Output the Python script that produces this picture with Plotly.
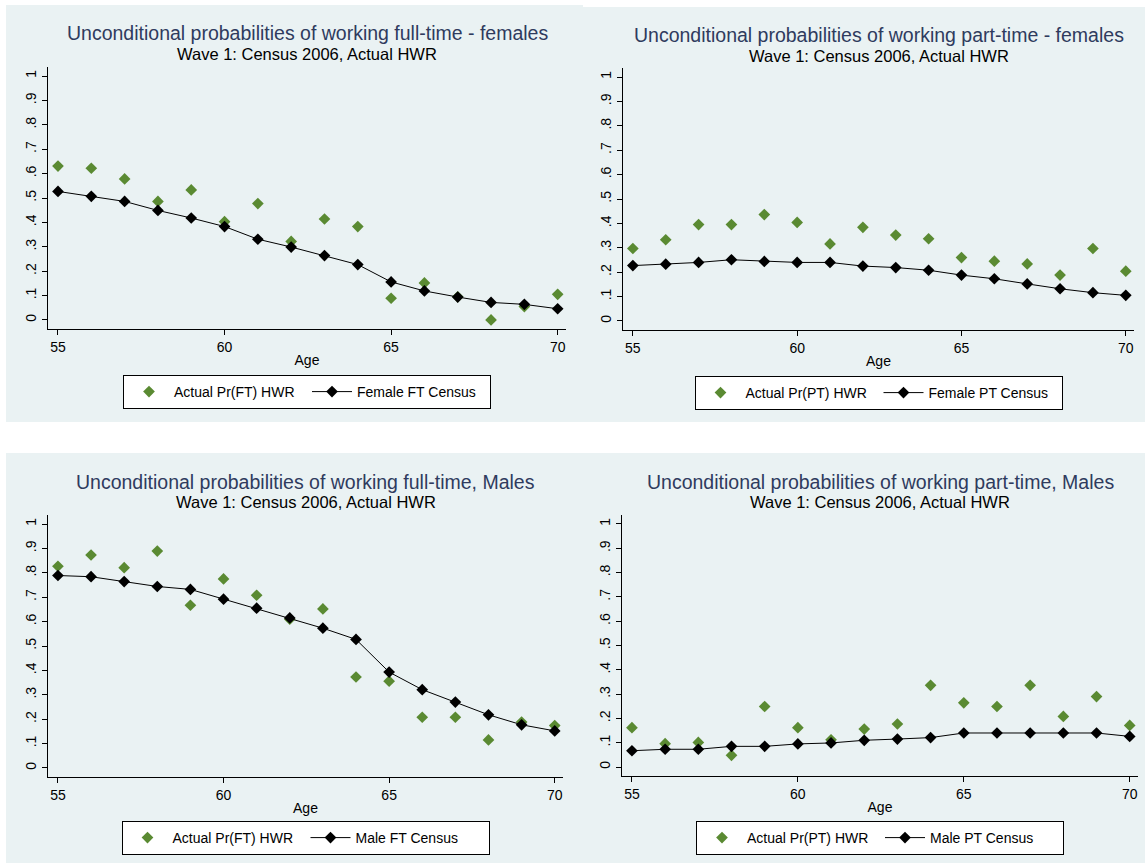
import plotly.graph_objects as go

ages = list(range(55, 71))

# Top-left: full-time, females
ft_f_actual = [0.631, 0.622, 0.578, 0.486, 0.533, 0.403, 0.477, 0.322, 0.414, 0.383, 0.089, 0.152, 0.095, 0.0, 0.055, 0.105]
ft_f_census = [0.527, 0.507, 0.486, 0.449, 0.418, 0.383, 0.331, 0.299, 0.264, 0.227, 0.156, 0.119, 0.094, 0.072, 0.064, 0.046]

# Top-right: part-time, females
pt_f_actual = [0.297, 0.333, 0.395, 0.395, 0.436, 0.404, 0.316, 0.384, 0.352, 0.337, 0.260, 0.245, 0.234, 0.188, 0.297, 0.204]
pt_f_census = [0.227, 0.233, 0.240, 0.251, 0.244, 0.240, 0.240, 0.225, 0.219, 0.208, 0.188, 0.173, 0.152, 0.132, 0.116, 0.105]

# Bottom-left: full-time, males
ft_m_actual = [0.827, 0.873, 0.821, 0.889, 0.667, 0.775, 0.708, 0.610, 0.652, 0.373, 0.356, 0.208, 0.208, 0.115, 0.188, 0.174]
ft_m_census = [0.789, 0.784, 0.764, 0.744, 0.732, 0.692, 0.655, 0.615, 0.573, 0.527, 0.393, 0.321, 0.270, 0.218, 0.177, 0.152]

# Bottom-right: part-time, males
pt_m_actual = [0.162, 0.096, 0.101, 0.048, 0.249, 0.162, 0.112, 0.156, 0.177, 0.336, 0.264, 0.249, 0.336, 0.208, 0.290, 0.171]
pt_m_census = [0.067, 0.073, 0.073, 0.085, 0.085, 0.095, 0.099, 0.110, 0.115, 0.121, 0.140, 0.140, 0.140, 0.140, 0.140, 0.126]

titles = [
    "Unconditional probabilities of working full-time - females",
    "Unconditional probabilities of working part-time - females",
    "Unconditional probabilities of working full-time, Males",
    "Unconditional probabilities of working part-time, Males",
]
subtitle = "Wave 1: Census 2006, Actual HWR"
actual_names = ["Actual Pr(FT) HWR", "Actual Pr(PT) HWR", "Actual Pr(FT) HWR", "Actual Pr(PT) HWR"]
census_names = ["Female FT Census", "Female PT Census", "Male FT Census", "Male PT Census"]
x_ticks = [55, 60, 65, 70]
y_ticks = [0, 0.1, 0.2, 0.3, 0.4, 0.5, 0.6, 0.7, 0.8, 0.9, 1.0]
y_ticktext = ["0", ".1", ".2", ".3", ".4", ".5", ".6", ".7", ".8", ".9", "1"]

W, H = 1145, 863
FONT = "Arial, Liberation Sans, sans-serif"
PANEL_BG = "#EAF2F3"
GREEN = "#5A8A32"
TITLE_COLOR = "#2F3B5E"

def px(x):
    return x / W

def py(y):
    return 1 - y / H

# plot areas in pixels: (left, right, top, bottom)
areas = [
    (48, 566, 67, 329),
    (623, 1134, 68, 330),
    (48, 563, 515, 777),
    (622, 1138, 515, 776),
]
title_y = [(33, 54), (35, 56), (482, 502), (482, 502)]
legend_y = [375, 376, 821, 821]

series = [
    (ft_f_actual, ft_f_census),
    (pt_f_actual, pt_f_census),
    (ft_m_actual, ft_m_census),
    (pt_m_actual, pt_m_census),
]

fig = go.Figure()
layout = dict(
    width=W, height=H, autosize=False,
    margin=dict(l=0, r=0, t=0, b=0),
    paper_bgcolor="white", plot_bgcolor="white",
    font=dict(family=FONT, color="black", size=14),
    showlegend=True,
)

shapes = [
    dict(type="rect", xref="paper", yref="paper", x0=px(6), x1=px(583), y0=py(422), y1=py(5),
         fillcolor=PANEL_BG, line=dict(width=0), layer="below"),
    dict(type="rect", xref="paper", yref="paper", x0=px(583), x1=px(1145), y0=py(422), y1=py(7),
         fillcolor=PANEL_BG, line=dict(width=0), layer="below"),
    dict(type="rect", xref="paper", yref="paper", x0=px(6), x1=px(1145), y0=py(863), y1=py(453),
         fillcolor=PANEL_BG, line=dict(width=0), layer="below"),
]
annotations = []

for i in range(4):
    n = i + 1
    xa = "x" if n == 1 else f"x{n}"
    ya = "y" if n == 1 else f"y{n}"
    lg = "legend" if n == 1 else f"legend{n}"
    l, r, t, b = areas[i]
    actual, census = series[i]
    fig.add_trace(go.Scatter(
        x=ages, y=actual, mode="markers", name=actual_names[i],
        marker=dict(symbol="diamond", size=9, color=GREEN),
        xaxis=xa, yaxis=ya, legend=lg,
    ))
    fig.add_trace(go.Scatter(
        x=ages, y=census, mode="lines+markers", name=census_names[i],
        marker=dict(symbol="diamond", size=9, color="black"),
        line=dict(color="black", width=1),
        xaxis=xa, yaxis=ya, legend=lg,
    ))
    xkey = "xaxis" if n == 1 else f"xaxis{n}"
    ykey = "yaxis" if n == 1 else f"yaxis{n}"
    layout[xkey] = dict(
        domain=[px(l), px(r)], anchor=ya, range=[54.7, 70.25],
        tickvals=x_ticks, ticks="outside", ticklen=5, tickcolor="black",
        showline=True, linecolor="black", linewidth=1, mirror=False,
        showgrid=False, zeroline=False, tickfont=dict(size=14),
        title=dict(text="Age", font=dict(size=14), standoff=1),
    )
    layout[ykey] = dict(
        domain=[py(b), py(t)], anchor=xa, range=[-0.037, 1.037],
        tickvals=y_ticks, ticktext=y_ticktext, tickangle=-90,
        ticks="outside", ticklen=5, tickcolor="black",
        showline=True, linecolor="black", linewidth=1,
        showgrid=True, gridcolor=PANEL_BG, gridwidth=1, zeroline=False,
        tickfont=dict(size=14),
    )
    cx = px((l + r) / 2)
    layout[lg] = dict(
        orientation="h", x=cx, xanchor="center", y=py(legend_y[i]), yanchor="top",
        bgcolor="white", bordercolor="black", borderwidth=1,
        font=dict(size=14), entrywidth=128, entrywidthmode="pixels",
        itemwidth=40, tracegroupgap=0,
    )
    ty, sy = title_y[i]
    annotations.append(dict(text=titles[i], xref="paper", yref="paper", x=cx, y=py(ty),
                            xanchor="center", yanchor="middle", showarrow=False,
                            font=dict(size=19.5, color=TITLE_COLOR)))
    annotations.append(dict(text=subtitle, xref="paper", yref="paper", x=cx, y=py(sy),
                            xanchor="center", yanchor="middle", showarrow=False,
                            font=dict(size=16.5, color="black")))

layout["shapes"] = shapes
layout["annotations"] = annotations
fig.update_layout(**layout)
fig.write_html("out.html", config={"displayModeBar": False},
               post_script="document.body.style.margin='0';")
